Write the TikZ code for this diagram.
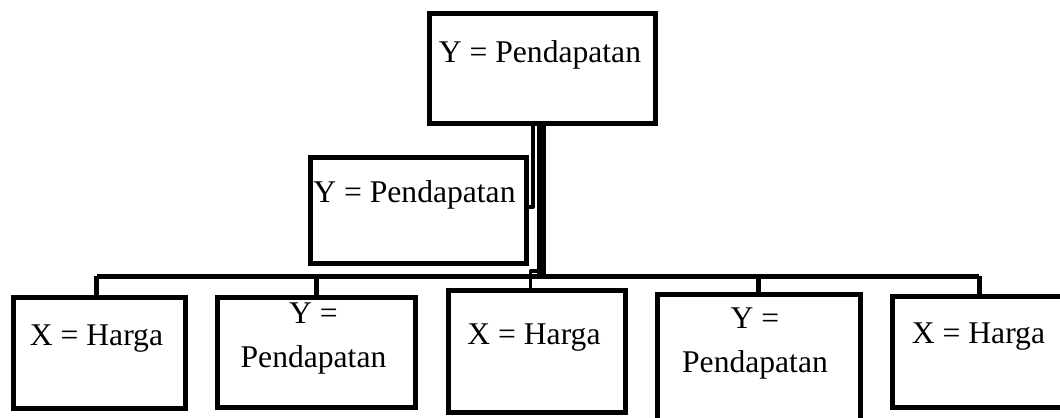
\documentclass[tikz,border=0pt]{standalone}
\usepackage{fontspec}
\setmainfont{Liberation Serif}
\begin{document}
\begin{tikzpicture}[x=1bp,y=-1bp,
  box/.style={draw=black,line width=5bp,inner sep=0pt,anchor=north west,fill=white},
  lbl/.style={font=\fontsize{31.6bp}{44bp}\selectfont,inner sep=0pt,align=center},
  bus/.style={line width=5bp,line join=round},
  trunk/.style={line width=9bp},
  thin/.style={line width=4bp,line join=round}]
\useasboundingbox (0,0) rectangle (1060,417);
\begin{scope}
\clip (0,0) rectangle (1060,417);
% connectors first
\coordinate (bus) at (541.5,276);
\coordinate (busl) at (96.5,276);
\coordinate (busr) at (979,276);
\coordinate (j3) at (541.5,271);
\coordinate (sp) at (533,207);
% boxes
\node[box,minimum width=226bp,minimum height=110bp] (top) at (426.5,10.5) {};
\node[box,minimum width=216bp,minimum height=106bp] (mid) at (307.5,154.5) {};
\node[box,minimum width=172bp,minimum height=111bp] (b1) at (10.5,294.5) {};
\node[box,minimum width=198bp,minimum height=110bp] (b2) at (214.5,294.5) {};
\node[box,minimum width=177bp,minimum height=122bp] (b3) at (445.5,287.5) {};
\node[box,minimum width=203bp,minimum height=150bp] (b4) at (654.5,291.5) {};
\node[box,minimum width=180bp,minimum height=111bp] (b5) at (889.5,293.5) {};
% connectors
\draw[trunk] (top.south -| bus) -- (bus);
\draw[thin] (top.south -| sp) -- (sp) -- (sp -| mid.east);
\draw[bus] (busl) -- (busr);
\draw[bus] (busl) -- (b1.north -| busl);
\draw[bus] (b2.north |- bus) -- (b2.north);
\draw[thin,line width=3.5bp] (j3) -- ([xshift=-6bp]b3.north |- j3) -- ([xshift=-6bp]b3.north);
\draw[bus] (b4.north |- bus) -- (b4.north);
\draw[bus] (busr) -- (b5.north -| busr);
% labels
\node[lbl,anchor=base] (t0) at (540,62) {Y = Pendapatan};
\node[lbl,anchor=base] (t1) at (414.5,202) {Y = Pendapatan};
\node[lbl,anchor=base] (t2) at (96.5,345) {X = Harga};
\node[lbl,anchor=base] (t3) at (313.5,323) {Y =};
\node[lbl,anchor=base] (t3b) at (313.5,367) {Pendapatan};
\node[lbl,anchor=base] (t4) at (534,344) {X = Harga};
\node[lbl,anchor=base] (t5) at (755,328) {Y =};
\node[lbl,anchor=base] (t5b) at (755,372) {Pendapatan};
\node[lbl,anchor=base] (t6) at (978.5,343) {X = Harga};
\end{scope}
\end{tikzpicture}
\end{document}
